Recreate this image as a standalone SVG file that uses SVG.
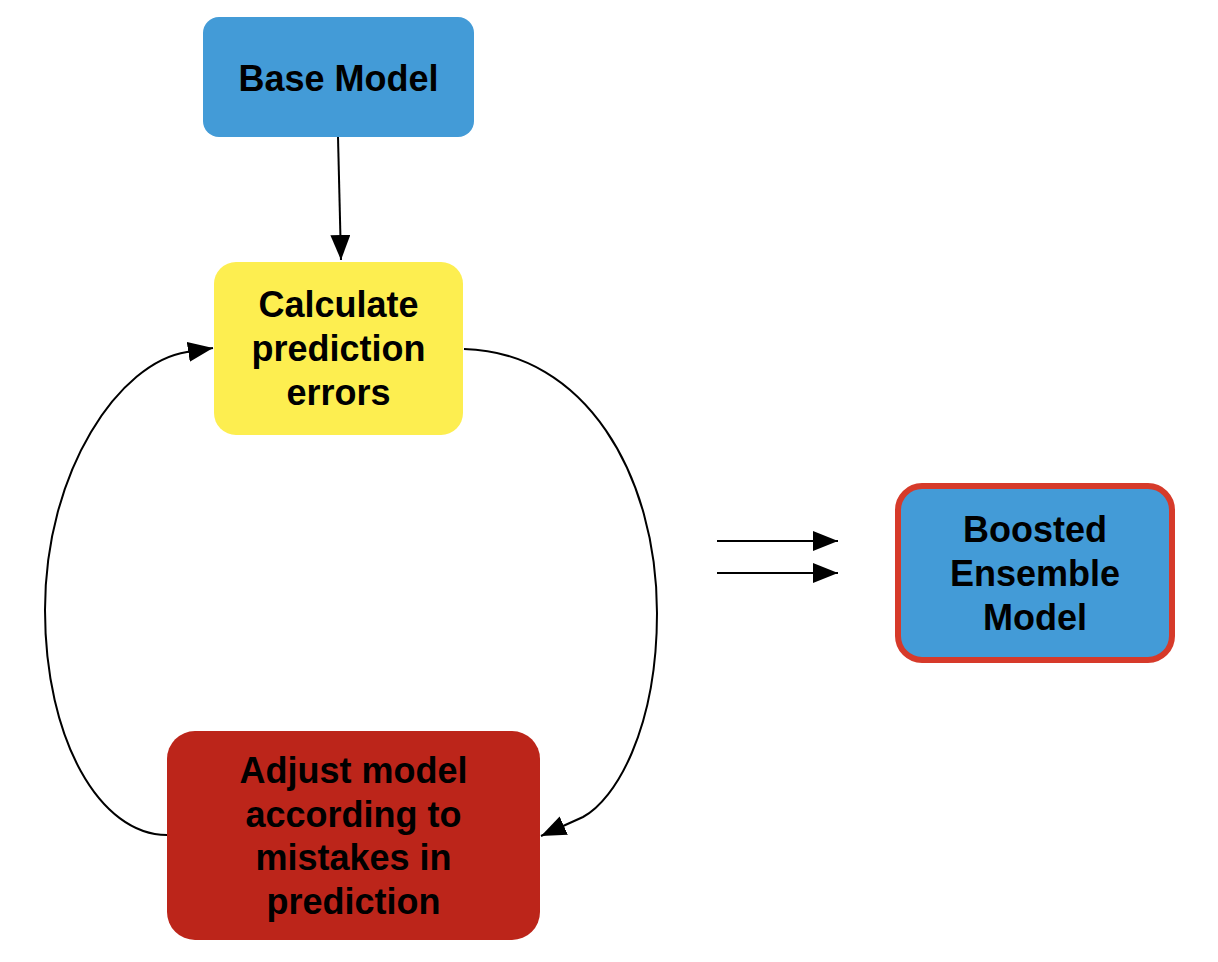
<svg xmlns="http://www.w3.org/2000/svg" width="1218" height="962" viewBox="0 0 1218 962">
<style>
.t{font-family:"Liberation Sans",Arial,sans-serif;font-weight:bold;font-size:36px;fill:#000;text-anchor:middle}
.c{fill:none;stroke:#000;stroke-width:2}
</style>
<defs>
<marker id="ah" markerUnits="userSpaceOnUse" markerWidth="28" markerHeight="22" refX="25" refY="10" orient="auto">
<path d="M0,0 L25,10 L0,20 z" fill="#000"/>
</marker>
</defs>
<rect width="1218" height="962" fill="#fff"/>
<g id="connectors">
<path class="c" d="M338,137 L341,260" marker-end="url(#ah)"/>
<path class="c" d="M464,349 C585,352 657,475 657,613 C657,730 615,800 583,817 L541,836" marker-end="url(#ah)"/>
<path class="c" d="M167,835 C100,835 45,740 45,610 C45,470 120,362 187,352 L213,348" marker-end="url(#ah)"/>
<path class="c" d="M717,541 L838,541" marker-end="url(#ah)"/>
<path class="c" d="M717,573 L838,573" marker-end="url(#ah)"/>
</g>
<g id="base">
<rect x="203" y="17" width="271" height="120" rx="16" fill="#439BD7"/>
<text class="t" x="338.5" y="91">Base Model</text>
</g>
<g id="calc">
<rect x="214" y="262" width="249" height="173" rx="22" fill="#FDEE50"/>
<text class="t" x="338.5" y="317">Calculate</text>
<text class="t" x="338.5" y="361">prediction</text>
<text class="t" x="338.5" y="405">errors</text>
</g>
<g id="adjust">
<rect x="167" y="731" width="373" height="209" rx="28" fill="#BC251A"/>
<text class="t" x="353.5" y="783">Adjust model</text>
<text class="t" x="353.5" y="827">according to</text>
<text class="t" x="353.5" y="870">mistakes in</text>
<text class="t" x="353.5" y="914">prediction</text>
</g>
<g id="boosted">
<rect x="898" y="486" width="274" height="174" rx="24" fill="#439BD7" stroke="#D63A2A" stroke-width="6"/>
<text class="t" x="1035" y="542">Boosted</text>
<text class="t" x="1035" y="586">Ensemble</text>
<text class="t" x="1035" y="630">Model</text>
</g>
</svg>
